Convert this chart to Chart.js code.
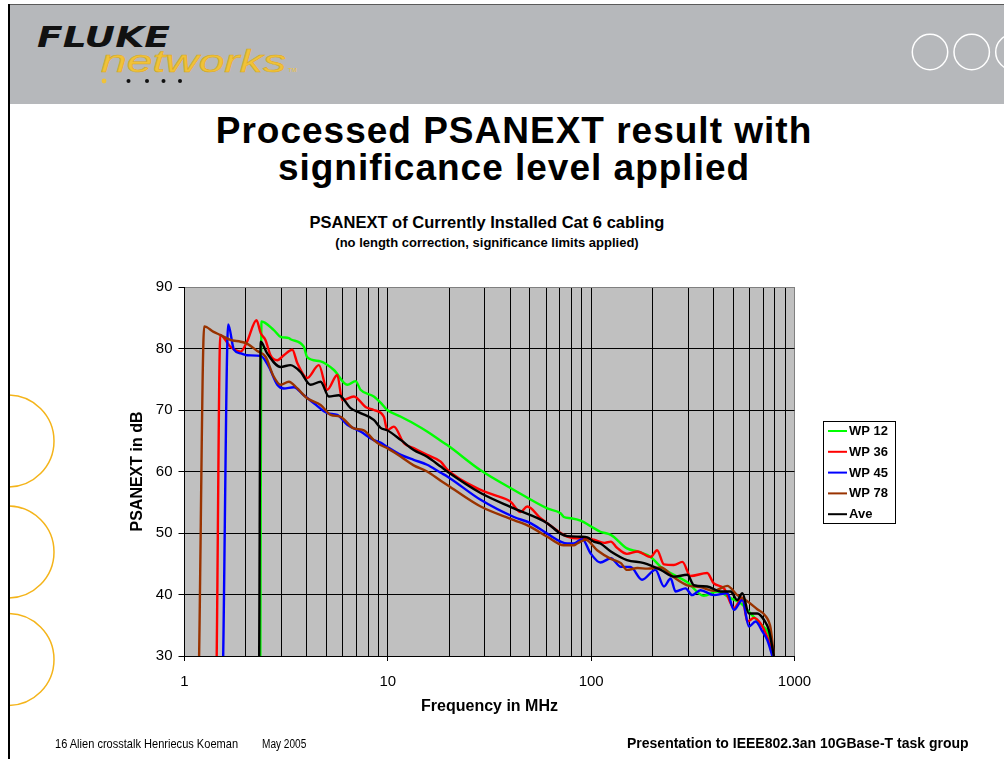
<!DOCTYPE html>
<html>
<head>
<meta charset="utf-8">
<script src="https://cdn.jsdelivr.net/npm/chart.js@4.4.1/dist/chart.umd.min.js"></script>
<style>
  html, body { margin: 0; padding: 0; background: #fff; }
  body { width: 1004px; height: 759px; position: relative; overflow: hidden; font-family: "Liberation Sans", Arial, sans-serif; }
  #header { position: absolute; left: 8px; top: 4px; width: 996px; height: 99px; background: #b6b8bb; border-top: 1px solid #5a5a5a; }
  #leftline { position: absolute; left: 8px; top: 4px; width: 2px; height: 755px; background: #000; }
  #deco { position: absolute; left: 0; top: 0; }
  .slidetitle { position: absolute; left: 0; width: 1028px; text-align: center; font-weight: bold; font-size: 37px; letter-spacing: 1px; color: #000; white-space: nowrap; line-height: 40px; }
  .charttitle { position: absolute; left: 0; width: 974px; text-align: center; font-weight: bold; color: #000; white-space: nowrap; }
  #chartWrap { position: absolute; left: 0; top: 0; width: 1004px; height: 759px; }
  .foot { position: absolute; white-space: nowrap; color: #000; transform-origin: 0 50%; }
</style>
</head>
<body>
<div id="header"></div>
<svg id="deco" width="1004" height="759">
  <defs>
    <clipPath id="leftClip"><rect x="9" y="0" width="100" height="759"/></clipPath>
  </defs>
  <text x="37" y="47" font-family="DejaVu Sans" font-weight="bold" font-style="italic" font-size="29" textLength="133" lengthAdjust="spacingAndGlyphs" fill="#111">FLUKE</text>
  <text x="101" y="72" font-family="Liberation Sans" font-style="italic" font-size="31" textLength="185" lengthAdjust="spacingAndGlyphs" fill="#f0c238" stroke="#d9a820" stroke-width="0.5">networks</text>
  <text x="288" y="72" font-family="Liberation Sans" font-size="6" fill="#f0c238">TM</text>
  <circle cx="104" cy="81" r="2.4" fill="#f0c238"/>
  <circle cx="128.5" cy="81" r="2" fill="#111"/>
  <circle cx="147" cy="81" r="2" fill="#111"/>
  <circle cx="163.5" cy="81" r="2" fill="#111"/>
  <circle cx="180" cy="81" r="2" fill="#111"/>
  <circle cx="930" cy="52" r="17.7" fill="none" stroke="#fff" stroke-width="1.5"/>
  <circle cx="971.7" cy="52" r="17.7" fill="none" stroke="#fff" stroke-width="1.5"/>
  <circle cx="1013.4" cy="52" r="17.7" fill="none" stroke="#fff" stroke-width="1.5"/>
  <g clip-path="url(#leftClip)" fill="none" stroke="#f4b41a" stroke-width="1.5">
    <circle cx="8" cy="441" r="46"/>
    <circle cx="8" cy="552" r="46"/>
    <circle cx="8" cy="659.5" r="46"/>
  </g>
</svg>
<div id="leftline"></div>
<div class="slidetitle" style="top:111px;">Processed PSANEXT result with</div>
<div class="slidetitle" style="top:148px;">significance level applied</div>
<div class="charttitle" style="top:213px; font-size:16.5px;">PSANEXT of Currently Installed Cat 6 cabling</div>
<div class="charttitle" style="top:235px; font-size:13px;">(no length correction, significance limits applied)</div>
<div id="chartWrap"><canvas id="psanextChart" width="1004" height="759"></canvas></div>
<div class="foot" style="left:55px; top:736px; font-size:13px; transform:scaleX(0.85);">16 Alien crosstalk Henriecus Koeman</div>
<div class="foot" style="left:262px; top:737px; font-size:12px; transform:scaleX(0.84);">May 2005</div>
<div class="foot" style="left:627px; top:735px; font-size:14px; font-weight:bold;">Presentation to IEEE802.3an 10GBase-T task group</div>

<script>
// Series labels and colours
const seriesLabels = ["WP 12", "WP 36", "WP 45", "WP 78", "Ave"];
const seriesColors = ["#00ff00", "#ff0000", "#0000ff", "#993300", "#000000"];

// Frequency (MHz) and PSANEXT (dB) per series
const wp12Freq = [2.36, 2.39, 2.75, 2.97, 3.26, 3.32, 3.86, 4.01, 4.67, 5.43, 6.32, 6.94, 7.34, 8.53, 9.21, 9.93, 11.6, 13.4, 15.6, 18.2, 19.6, 28.6, 41.7, 60.8, 70.7, 73.4, 79.2, 88.7, 103, 111, 125, 150, 169, 196, 220, 255, 297, 358, 417, 485, 543, 608, 681, 748, 792];
const wp12Db = [30, 84.4, 83.0, 81.9, 81.7, 81.5, 80.3, 78.6, 77.9, 76.5, 74.1, 74.7, 73.3, 72.2, 71.2, 70.0, 68.9, 67.8, 66.5, 65.0, 64.3, 60.2, 57.0, 54.0, 53.2, 52.6, 52.4, 52.0, 50.8, 50.2, 49.7, 47.5, 47.0, 46.1, 44.5, 43.2, 42.0, 39.8, 40.5, 39.4, 38.6, 36.9, 35.2, 33.5, 30];

const wp36Freq = [1.44, 1.50, 1.68, 1.89, 2.03, 2.26, 2.37, 2.50, 2.65, 2.86, 3.08, 3.39, 3.59, 4.01, 4.58, 5.04, 5.64, 5.97, 6.81, 7.77, 8.53, 9.56, 9.93, 10.7, 12.0, 13.4, 15.6, 18.2, 19.6, 28.6, 33.2, 40.1, 44.9, 48.5, 56.4, 60.8, 76.3, 88.7, 95.7, 103, 116, 125, 134, 150, 169, 196, 211, 228, 255, 281, 308, 372, 401, 450, 504, 554, 586, 632, 681, 735, 792];
const wp36Db = [30, 82.2, 80.3, 79.5, 81.1, 84.6, 82.5, 81.4, 78.9, 78.1, 78.9, 79.8, 77.6, 75.2, 77.3, 73.3, 75.7, 71.6, 72.2, 70.5, 70.0, 68.9, 66.7, 67.3, 64.6, 63.8, 62.7, 61.6, 60.3, 57.0, 56.2, 55.1, 53.4, 54.3, 52.4, 51.6, 49.4, 49.1, 49.1, 48.9, 48.4, 48.6, 47.6, 46.6, 47.0, 46.1, 47.2, 44.9, 44.8, 45.3, 43.0, 43.5, 41.8, 41.0, 37.8, 39.5, 35.6, 36.2, 35.3, 33.1, 30];

const wp45Freq = [1.55, 1.64, 1.75, 1.89, 2.03, 2.37, 2.60, 2.86, 3.08, 3.45, 3.86, 4.33, 5.04, 5.64, 6.32, 7.34, 8.53, 9.21, 9.93, 11.6, 13.4, 15.6, 18.2, 19.6, 28.6, 41.7, 50.3, 60.8, 76.3, 82.2, 90.4, 99.3, 111, 125, 140, 156, 178, 207, 228, 246, 260, 291, 314, 345, 401, 467, 504, 554, 597, 644, 695, 735, 778];
const wp45Db = [30, 83.9, 79.8, 79.2, 78.9, 78.8, 77.0, 74.1, 73.5, 73.7, 72.4, 71.1, 69.5, 69.2, 67.6, 66.5, 65.1, 64.7, 64.0, 62.7, 61.9, 61.1, 59.8, 59.2, 55.4, 52.6, 51.6, 49.9, 48.3, 48.3, 49.0, 46.7, 45.2, 45.9, 44.5, 44.5, 42.4, 44.0, 41.3, 42.6, 40.5, 41.0, 39.9, 40.7, 39.9, 40.2, 37.5, 39.1, 34.8, 35.6, 34.0, 32.6, 30];

const wp78Freq = [1.18, 1.25, 1.39, 1.50, 1.68, 1.89, 2.03, 2.28, 2.50, 2.75, 2.97, 3.26, 3.59, 4.01, 4.67, 5.23, 5.85, 6.81, 7.62, 8.53, 9.21, 9.93, 11.6, 13.4, 15.6, 18.2, 19.6, 28.6, 41.7, 50.3, 60.8, 73.4, 82.2, 85.4, 93.9, 107, 125, 140, 150, 169, 189, 220, 255, 297, 345, 401, 467, 523, 586, 656, 721, 763, 792];
const wp78Db = [30, 83.6, 82.7, 82.2, 81.4, 81.1, 80.8, 79.6, 78.7, 75.4, 74.1, 74.6, 73.5, 71.9, 70.8, 69.2, 68.9, 67.0, 66.7, 65.1, 64.3, 63.8, 62.4, 61.0, 60.0, 58.5, 57.8, 54.3, 52.1, 51.0, 49.4, 48.0, 48.0, 48.3, 48.9, 47.2, 45.8, 45.1, 44.0, 44.3, 44.2, 44.4, 42.8, 41.5, 41.2, 40.6, 41.4, 39.9, 38.9, 37.6, 36.5, 34.5, 30];

const aveFreq = [2.33, 2.37, 2.55, 2.97, 3.32, 3.72, 4.17, 4.67, 5.13, 5.74, 6.56, 7.34, 8.53, 9.21, 9.93, 11.6, 13.4, 15.6, 18.2, 19.6, 28.6, 41.7, 60.8, 70.7, 76.3, 88.7, 95.7, 103, 111, 125, 150, 182, 220, 255, 297, 320, 372, 433, 485, 523, 554, 597, 656, 707, 748, 792];
const aveDb = [30, 81.1, 79.2, 77.0, 77.3, 76.2, 74.1, 74.6, 72.2, 72.4, 70.3, 69.5, 68.4, 67.1, 66.7, 65.1, 63.5, 62.4, 60.8, 60.0, 56.5, 54.0, 51.6, 49.9, 49.5, 49.4, 49.3, 48.6, 48.3, 47.0, 45.6, 45.1, 44.0, 42.9, 43.2, 41.5, 41.3, 40.5, 40.5, 39.1, 40.2, 36.9, 36.9, 35.9, 34.2, 30];

// Axis ticks
const xGridValues = [1, 2, 3, 4, 5, 6, 7, 8, 9, 10, 20, 30, 40, 50, 60, 70, 80, 90, 100, 200, 300, 400, 500, 600, 700, 800, 900, 1000];
const xLabelValues = [1, 10, 100, 1000];
const yTickValues = [30, 40, 50, 60, 70, 80, 90];

const allFreq = [wp12Freq, wp36Freq, wp45Freq, wp78Freq, aveFreq];
const allDb = [wp12Db, wp36Db, wp45Db, wp78Db, aveDb];

Chart.defaults.font.family = '"Liberation Sans", Arial, sans-serif';
Chart.defaults.color = "#000";

// gray plot background
const plotBackground = {
    id: "plotBackground",
    beforeDraw(chart) {
        const { ctx, chartArea } = chart;
        ctx.save();
        ctx.fillStyle = "#c0c0c0";
        ctx.fillRect(chartArea.left, chartArea.top, chartArea.right - chartArea.left, chartArea.bottom - chartArea.top);
        ctx.restore();
    },
};

// boxed legend to the right of the plot
const boxLegend = {
    id: "boxLegend",
    afterDraw(chart) {
        const ctx = chart.ctx;
        const left = 823.5, top = 421.5, width = 72, height = 102;
        ctx.save();
        ctx.fillStyle = "#fff";
        ctx.fillRect(left, top, width, height);
        ctx.strokeStyle = "#000";
        ctx.lineWidth = 1;
        ctx.strokeRect(left, top, width, height);
        ctx.font = "bold 13px 'Liberation Sans', Arial";
        ctx.textBaseline = "middle";
        seriesLabels.forEach((label, i) => {
            const y = 431 + i * 20.8;
            ctx.strokeStyle = seriesColors[i];
            ctx.lineWidth = 2;
            ctx.beginPath();
            ctx.moveTo(828, y);
            ctx.lineTo(847, y);
            ctx.stroke();
            ctx.fillStyle = "#000";
            ctx.fillText(label, 849, y + 0.5);
        });
        ctx.restore();
    },
};

const datasets = seriesLabels.map((label, i) => ({
    label: label,
    data: allFreq[i].map((f, j) => ({ x: f, y: allDb[i][j] })),
    borderColor: seriesColors[i],
    backgroundColor: seriesColors[i],
    borderWidth: 2.4,
    pointRadius: 0,
    cubicInterpolationMode: "monotone",
    order: seriesLabels.length - 1 - i,
}));

const ctx = document.getElementById("psanextChart").getContext("2d");
new Chart(ctx, {
    type: "line",
    data: { datasets: datasets },
    options: {
        responsive: false,
        animation: false,
        layout: { padding: { left: 124.4, top: 287, right: 209.5, bottom: 38.4 } },
        plugins: {
            legend: { display: false },
            tooltip: { enabled: false },
        },
        scales: {
            x: {
                type: "logarithmic",
                min: 1,
                max: 1000,
                afterBuildTicks: (axis) => {
                    axis.ticks = xGridValues.map((v) => ({ value: v }));
                },
                afterFit: (scale) => {
                    scale.height = 64.6;
                },
                ticks: {
                    autoSkip: false,
                    maxRotation: 0,
                    padding: 12,
                    font: { size: 15 },
                    color: "#000",
                    callback: (value) => (xLabelValues.includes(value) ? String(value) : ""),
                },
                grid: {
                    color: (c) => (c.tick && c.tick.value === 1000 ? "#808080" : "#000"),
                    tickColor: (c) => (c.tick && xLabelValues.includes(c.tick.value) ? "#000" : "rgba(0,0,0,0)"),
                    tickLength: 5,
                    lineWidth: 1,
                },
                border: { color: "#000", width: 1 },
                title: {
                    display: true,
                    text: "Frequency in MHz",
                    font: { size: 16, weight: "bold" },
                    color: "#000",
                    padding: { top: 4, bottom: 4 },
                },
            },
            y: {
                min: 30,
                max: 90,
                afterBuildTicks: (axis) => {
                    axis.ticks = yTickValues.map((v) => ({ value: v }));
                },
                afterFit: (scale) => {
                    scale.width = 60.1;
                },
                ticks: {
                    padding: 6,
                    font: { size: 15 },
                    color: "#000",
                },
                grid: {
                    color: (c) => (c.tick && c.tick.value === 90 ? "#808080" : "#000"),
                    tickColor: "#000",
                    tickLength: 6,
                    lineWidth: 1,
                },
                border: { color: "#000", width: 1 },
                title: {
                    display: true,
                    text: "PSANEXT in dB",
                    font: { size: 16, weight: "bold" },
                    color: "#000",
                    padding: { top: 4, bottom: 4 },
                },
            },
        },
    },
    plugins: [plotBackground, boxLegend],
});
</script>
</body>
</html>
